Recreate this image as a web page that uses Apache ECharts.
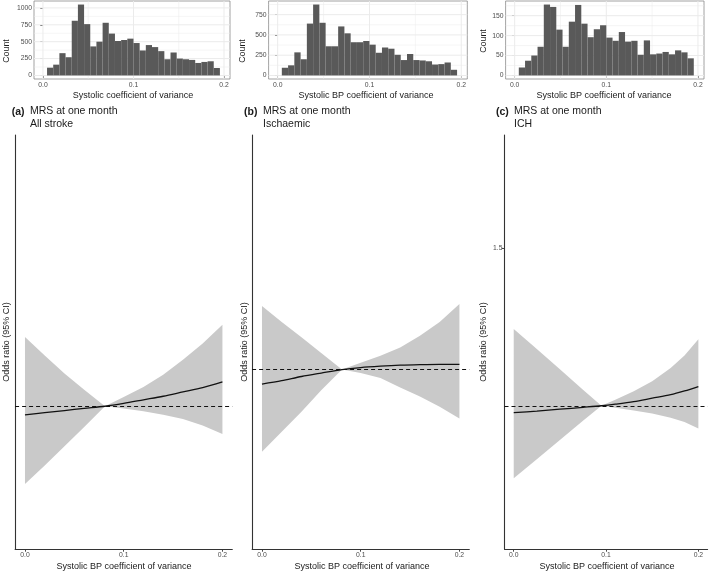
<!DOCTYPE html>
<html><head><meta charset="utf-8">
<script src="https://cdn.jsdelivr.net/npm/echarts@6/dist/echarts.min.js"></script>
<style>html,body{margin:0;padding:0;background:#fff}#c{width:709px;height:573px}</style>
</head><body><div id="c"></div>
<script>
// ---------- Histogram data (top row) ----------
const histBinStart = 0.0045;
const histBinWidth = 0.00682;
const histCountsA = [115,160,330,270,810,1050,760,430,500,780,620,510,525,545,480,370,450,420,360,240,340,250,240,230,185,200,210,110];
const histCountsB = [95,125,285,200,640,875,650,360,360,605,520,410,410,425,380,280,345,330,255,190,265,190,185,175,135,140,160,70];
const histCountsC = [20,37,50,72,178,172,115,72,135,177,130,96,116,126,95,87,109,85,87,52,88,53,55,59,53,63,58,43];
const histYTicksA = [0,250,500,750,1000];
const histYTicksB = [0,250,500,750];
const histYTicksC = [0,50,100,150];
const histYMinorA = [125,375,625,875];
const histYMinorB = [125,375,625,875];
const histYMinorC = [25,75,125,175];
const xTicks = [0,0.1,0.2];
const xMinor = [0.05,0.15];

// ---------- Odds ratio curves (bottom row) ----------
const orA_x  = [0, 0.02, 0.04, 0.06, 0.081, 0.10, 0.12, 0.14, 0.16, 0.18, 0.20];
const orA_hi = [1.097, 1.071, 1.046, 1.023, 1.0, 1.013, 1.027, 1.044, 1.065, 1.088, 1.114];
const orA_lo = [0.891, 0.917, 0.944, 0.971, 1.0, 0.997, 0.993, 0.988, 0.982, 0.973, 0.961];
const orA_est= [0.988, 0.991, 0.994, 0.997, 1.0, 1.004, 1.009, 1.014, 1.020, 1.026, 1.034];

const orB_x  = [0, 0.02, 0.04, 0.06, 0.081, 0.10, 0.12, 0.14, 0.16, 0.18, 0.20];
const orB_hi = [1.092, 1.069, 1.047, 1.024, 1.0, 1.010, 1.020, 1.032, 1.049, 1.069, 1.095];
const orB_lo = [0.881, 0.910, 0.939, 0.970, 1.0, 0.995, 0.988, 0.974, 0.961, 0.946, 0.929];
const orB_est= [0.979, 0.984, 0.990, 0.995, 1.0, 1.003, 1.005, 1.0065, 1.0073, 1.0077, 1.0077];

const orC_x  = [0, 0.025, 0.05, 0.075, 0.095, 0.11, 0.13, 0.15, 0.17, 0.185, 0.20];
const orC_hi = [1.244, 1.180, 1.116, 1.051, 1.0, 1.019, 1.046, 1.078, 1.120, 1.160, 1.211];
const orC_lo = [0.770, 0.830, 0.891, 0.952, 1.0, 0.994, 0.985, 0.975, 0.962, 0.948, 0.928];
const orC_est= [0.978, 0.983, 0.989, 0.995, 1.0, 1.005, 1.013, 1.024, 1.035, 1.047, 1.061];
const orC_yTicks = [1.5];
const refOR = 1;

const FONT = '"Liberation Sans", Arial, Helvetica, sans-serif';
const TICKCOL = '#4d4d4d';

const chart = echarts.init(document.getElementById('c'), null, {renderer:'canvas'});

const histGrids = [
  {left:34, top:1, width:196, height:78},
  {left:268.6, top:1, width:198.7, height:78},
  {left:505.6, top:1, width:198.4, height:78}
];
const lowGrids = [
  {left:15.1, top:135, width:217.2, height:414},
  {left:252.1, top:135, width:217.2, height:414},
  {left:504.5, top:135, width:203.1, height:414}
];
const grids = [];
histGrids.forEach(g => grids.push(Object.assign({show:true, borderColor:'#8c8c8c', borderWidth:0.8, backgroundColor:'#fff', outerBoundsMode:'none', containLabel:false}, g)));
lowGrids.forEach(g => grids.push(Object.assign({show:false, outerBoundsMode:'none', containLabel:false}, g)));

const fmt1 = v => v.toFixed(1);
const fmtInt = v => String(Math.round(v));
function histX(i){
  return {type:'value', gridIndex:i, min:-0.0099, max:0.2066,
    axisLine:{show:false}, splitLine:{show:false},
    axisTick:{show:true, length:2.7, customValues:xTicks, lineStyle:{color:'#333', width:0.8}},
    axisLabel:{show:true, customValues:xTicks, formatter:fmt1, fontSize:6.8, color:TICKCOL, margin:2.5, fontFamily:FONT}};
}
function histY(i, min, max, ticks){
  return {type:'value', gridIndex:i, min:min, max:max,
    axisLine:{show:false}, splitLine:{show:false},
    axisTick:{show:true, length:2.7, customValues:ticks, lineStyle:{color:'#333', width:0.8}},
    axisLabel:{show:true, customValues:ticks, formatter:fmtInt, fontSize:6.8, color:TICKCOL, margin:2, fontFamily:FONT}};
}
function lowX(i){
  return {type:'value', gridIndex:i, min:-0.01, max:0.21,
    axisLine:{show:true, onZero:false, lineStyle:{color:'#333', width:1.1}}, splitLine:{show:false},
    axisTick:{show:true, length:2.7, customValues:xTicks, lineStyle:{color:'#333', width:0.9}},
    axisLabel:{show:true, customValues:xTicks, formatter:fmt1, fontSize:6.8, color:TICKCOL, margin:3, fontFamily:FONT}};
}
function lowY(i, min, max, ticks){
  const o = {type:'value', gridIndex:i, min:min, max:max,
    axisLine:{show:true, onZero:false, lineStyle:{color:'#333', width:1.1}}, splitLine:{show:false}};
  if (ticks && ticks.length){
    o.axisTick = {show:true, length:2.7, customValues:ticks, lineStyle:{color:'#333', width:0.9}};
    o.axisLabel = {show:true, customValues:ticks, formatter:fmt1, fontSize:6.8, color:TICKCOL, margin:2, fontFamily:FONT};
  } else {
    o.axisTick = {show:false};
    o.axisLabel = {show:false};
  }
  return o;
}

const xAxes = [histX(0), histX(1), histX(2), lowX(3), lowX(4), lowX(5)];
const yAxes = [
  histY(0, -52.5, 1102.5, histYTicksA),
  histY(1, -43.75, 918.75, histYTicksB),
  histY(2, -8.9, 186.9, histYTicksC),
  lowY(3, 0.8, 1.38, []),
  lowY(4, 0.74, 1.34, []),
  lowY(5, 0.545, 1.86, orC_yTicks)
];

function gridLineSeries(idx, yMajor, yMinor){
  return {type:'custom', xAxisIndex:idx, yAxisIndex:idx, z:1, silent:true,
    data:[[0.1, 0]],
    renderItem:(params, api) => {
      const cs = params.coordSys;
      const ch = [];
      const vline = (v, w) => { const p = api.coord([v, 0])[0];
        ch.push({type:'line', shape:{x1:p, y1:cs.y, x2:p, y2:cs.y+cs.height}, style:{stroke:'#ebebeb', lineWidth:w}}); };
      const hline = (v, w) => { const p = api.coord([0, v])[1];
        ch.push({type:'line', shape:{x1:cs.x, y1:p, x2:cs.x+cs.width, y2:p}, style:{stroke:'#ebebeb', lineWidth:w}}); };
      xMinor.forEach(v => vline(v, 0.5));
      yMinor.forEach(v => hline(v, 0.5));
      xTicks.forEach(v => vline(v, 1));
      yMajor.forEach(v => hline(v, 1));
      return {type:'group', children:ch};
    }};
}
function histSeries(idx, counts){
  return {type:'custom', xAxisIndex:idx, yAxisIndex:idx, z:3, silent:true,
    data: counts.map((c,i) => [histBinStart + i*histBinWidth, histBinStart + (i+1)*histBinWidth, c]),
    encode:{x:[0,1], y:2},
    renderItem:(params, api) => {
      const p0 = api.coord([api.value(0), api.value(2)]);
      const p1 = api.coord([api.value(1), 0]);
      return {type:'rect', shape:{x:p0[0], y:p0[1], width:p1[0]-p0[0], height:p1[1]-p0[1]}, style:{fill:'#595959'}};
    }};
}
function ribbonSeries(idx, xs, lo, hi){
  return {type:'custom', xAxisIndex:idx, yAxisIndex:idx, z:2, silent:true,
    data: xs.map((x,i) => [x, lo[i], hi[i]]),
    encode:{x:0, y:[1,2]},
    renderItem:(params, api) => {
      if (params.dataIndex !== 0) return null;
      const pts = [];
      for (let i = 0; i < xs.length; i++) pts.push(api.coord([xs[i], hi[i]]));
      for (let i = xs.length - 1; i >= 0; i--) pts.push(api.coord([xs[i], lo[i]]));
      return {type:'polygon', shape:{points:pts}, style:{fill:'#c9c9c9'}};
    }};
}
function estSeries(idx, xs, est){
  return {type:'line', xAxisIndex:idx, yAxisIndex:idx, z:4, silent:true,
    data: xs.map((x,i) => [x, est[i]]), showSymbol:false, smooth:0.3,
    lineStyle:{color:'#111', width:1.3},
    markLine:{silent:true, symbol:['none','none'], label:{show:false}, animation:false,
      lineStyle:{color:'#111', width:1, type:[4,3]}, data:[{yAxis:refOR}]}};
}

const series = [
  gridLineSeries(0, histYTicksA, histYMinorA),
  gridLineSeries(1, histYTicksB, histYMinorB),
  gridLineSeries(2, histYTicksC, histYMinorC),
  histSeries(0, histCountsA), histSeries(1, histCountsB), histSeries(2, histCountsC),
  ribbonSeries(3, orA_x, orA_lo, orA_hi), estSeries(3, orA_x, orA_est),
  ribbonSeries(4, orB_x, orB_lo, orB_hi), estSeries(4, orB_x, orB_est),
  ribbonSeries(5, orC_x, orC_lo, orC_hi), estSeries(5, orC_x, orC_est)
];

function txt(x, y, s, size, opts){
  return Object.assign({type:'text', x:x, y:y, silent:true,
    style:Object.assign({text:s, fontSize:size, fontFamily:FONT, fill:'#1a1a1a', align:'center', verticalAlign:'middle'}, (opts && opts.style) || {})},
    (opts && opts.el) || {});
}
const ROT = {el:{rotation:Math.PI/2}};
const graphics = [
  // histogram axis titles
  txt(7, 51, 'Count', 8.8, ROT),
  txt(243, 51, 'Count', 8.8, ROT),
  txt(484, 41, 'Count', 8.8, ROT),
  txt(133, 96, 'Systolic coefficient of variance', 9),
  txt(366, 96, 'Systolic BP coefficient of variance', 9),
  txt(604, 96, 'Systolic BP coefficient of variance', 9),
  // panel titles
  txt(11.7, 111.7, '(a)', 10.5, {style:{align:'left', fontWeight:'bold'}}),
  txt(30, 105, 'MRS at one month\nAll stroke', 10.5, {style:{align:'left', verticalAlign:'top', lineHeight:12.6}}),
  txt(244, 111.7, '(b)', 10.5, {style:{align:'left', fontWeight:'bold'}}),
  txt(263, 105, 'MRS at one month\nIschaemic', 10.5, {style:{align:'left', verticalAlign:'top', lineHeight:12.6}}),
  txt(496, 111.7, '(c)', 10.5, {style:{align:'left', fontWeight:'bold'}}),
  txt(514, 105, 'MRS at one month\nICH', 10.5, {style:{align:'left', verticalAlign:'top', lineHeight:12.6}}),
  // lower axis titles
  txt(7, 342, 'Odds ratio (95% CI)', 9, ROT),
  txt(245, 342, 'Odds ratio (95% CI)', 9, ROT),
  txt(484, 342, 'Odds ratio (95% CI)', 9, ROT),
  txt(124, 566.5, 'Systolic BP coefficient of variance', 9),
  txt(362, 566.5, 'Systolic BP coefficient of variance', 9),
  txt(607, 566.5, 'Systolic BP coefficient of variance', 9)
];

chart.setOption({
  animation:false,
  backgroundColor:'#fff',
  grid:grids, xAxis:xAxes, yAxis:yAxes, series:series, graphic:graphics
});
</script></body></html>
